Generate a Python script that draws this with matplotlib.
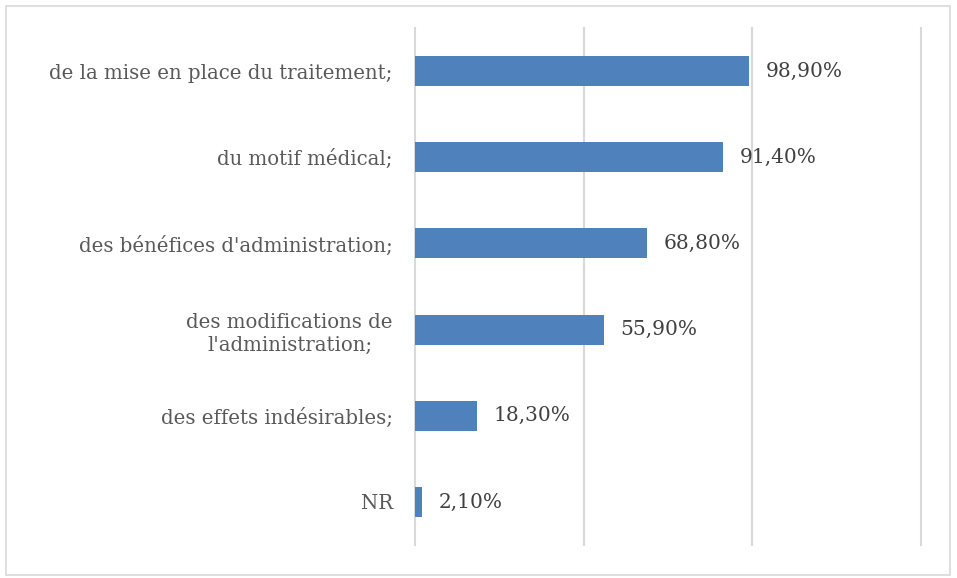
import matplotlib.pyplot as plt
from matplotlib.patches import Rectangle

# données
categories = ["de la mise en place du traitement;",
              "du motif médical;",
              "des bénéfices d'administration;",
              "des modifications de\nl'administration;",
              "des effets indésirables;",
              "NR"]
valeurs = [98.9, 91.4, 68.8, 55.9, 18.3, 2.1]
etiquettes = ["98,90%", "91,40%", "68,80%", "55,90%", "18,30%", "2,10%"]

plt.rcParams['font.family'] = ['DejaVu Serif']

fig = plt.figure(figsize=(9.57, 5.78), dpi=100)
ax = fig.add_axes([415/957, 1-545/578, (921-415)/957, (545-28)/578])

# cadre gris autour du graphique
fig.patches.append(Rectangle((6/957, 3/578), 944/957, 569/578, transform=fig.transFigure,
                             fill=False, edgecolor="#d9d9d9", linewidth=1.2))

pos = list(range(len(categories)))
ax.barh(pos, valeurs, height=0.35, color="#4f81bd", zorder=3)

for p, v, t in zip(pos, valeurs, etiquettes):
    ax.text(v + 5, p, t, va="center", ha="left", fontsize=14.5, color="#404040")

ax.set_xlim(0, 150)
ax.set_ylim(5.5, -0.5)
ax.set_xticks([0, 50, 100, 150])
ax.set_xticklabels([])
ax.tick_params(axis="x", length=0)
ax.grid(axis="x", color="#d9d9d9", linewidth=1.5, zorder=0)
for gl in ax.get_xgridlines():
    gl.set_clip_on(False)

ax.set_yticks(pos)
ax.set_yticklabels(categories, fontsize=14.2, color="#595959", multialignment="center",
                   linespacing=1.3)
ax.tick_params(axis="y", length=0, pad=16)

for s in ["top", "right", "bottom", "left"]:
    ax.spines[s].set_visible(False)

plt.savefig("out.png", dpi=100)
